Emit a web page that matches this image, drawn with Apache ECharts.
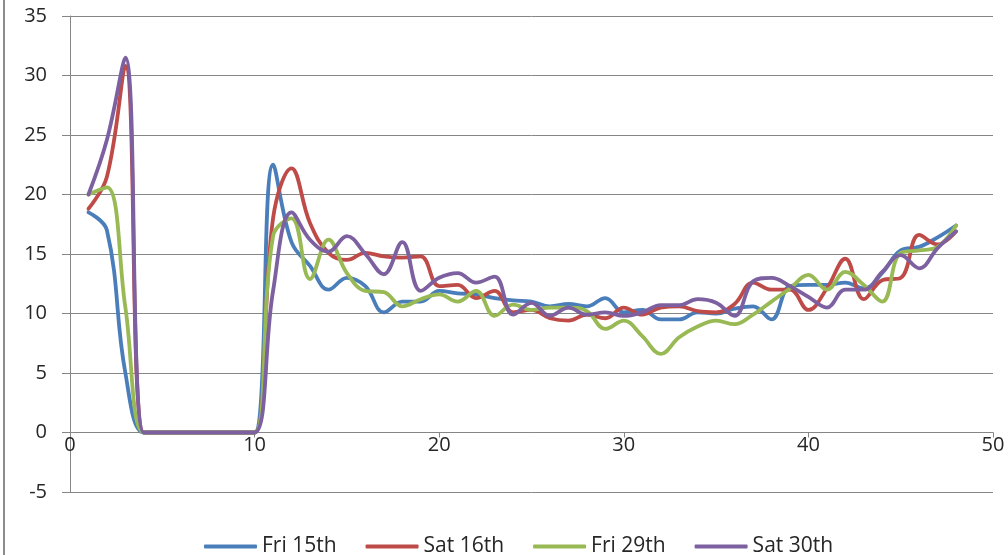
<!DOCTYPE html>
<html>
<head>
<meta charset="utf-8">
<script src="https://cdn.jsdelivr.net/npm/echarts@6/dist/echarts.min.js"></script>
<style>
html,body{margin:0;padding:0;background:#fff;}
#chart{width:1008px;height:555px;}
</style>
</head>
<body>
<div id="chart"></div>
<script>
const xValues = [1,2,3,4,5,6,7,8,9,10,11,12,13,14,15,16,17,18,19,20,21,22,23,24,25,26,27,28,29,30,31,32,33,34,35,36,37,38,39,40,41,42,43,44,45,46,47,48];
const seriesNames = ['Fri 15th','Sat 16th','Fri 29th','Sat 30th'];
const fri15 = [18.5,17,5,0,0,0,0,0,0,0,22.5,16,14,12,13,12.3,10.1,11,11,11.9,11.7,11.6,11.3,11.1,11,10.6,10.8,10.6,11.3,10.1,10.3,9.5,9.5,10.1,10,10.4,10.6,9.5,12.3,12.4,12.4,12.6,12.1,13.4,15.3,15.6,16.4,17.4];
const sat16 = [18.8,21.5,30.8,0,0,0,0,0,0,0,18,22.2,17.6,15.1,14.5,15.1,14.8,14.7,14.8,12.3,12.4,11.3,11.9,10.1,10.3,9.6,9.4,9.9,9.6,10.5,9.9,10.5,10.6,10.2,10.1,10.8,12.6,12,12,10.3,12.1,14.6,11.2,12.8,13,16.6,15.8,16.9];
const fri29 = [20,20.6,10.5,0,0,0,0,0,0,0,16.5,18,12.9,16.2,13.4,11.9,11.8,10.6,11.2,11.6,11,11.9,9.8,10.75,10.3,10.5,10.5,10.2,8.7,9.4,8.1,6.6,8,8.9,9.4,9.1,9.9,11,12.1,13.25,12,13.5,12.4,11,15.1,15.3,15.6,17.4];
const sat30 = [20,24.6,31.5,0,0,0,0,0,0,0,11.9,18.5,16.2,15.2,16.5,15,13.3,16,11.9,13,13.4,12.6,13.1,9.9,10.9,9.8,10.5,9.9,10.1,9.8,10.1,10.7,10.7,11.2,10.9,9.8,12.7,13,12.3,11.4,10.5,12,12,13.5,14.9,13.8,15.5,16.9];
const xTicks = [0,10,20,30,40,50];
const yTicks = [-5,0,5,10,15,20,25,30,35];
const colors = ['#4A7EBB','#BE4B48','#98B954','#7D60A0'];

const allSeries = [fri15, sat16, fri29, sat30];
const chart = echarts.init(document.getElementById('chart'), null, {renderer:'canvas'});
const font = "'Open Sans', sans-serif";
const gridTop = 16, gridBottom = 63;
const plotH = 555 - gridTop - gridBottom;
const zeroOffset = -plotH * (0 - yTicks[0]) / (yTicks[yTicks.length-1] - yTicks[0]);
chart.setOption({
  animation:false,
  backgroundColor:'#ffffff',
  color:colors,
  graphic:[{type:'line',shape:{x1:4,y1:0,x2:4,y2:555},style:{stroke:'#8c8c8c',lineWidth:2}}],
  grid:{left:70,right:15,top:gridTop,bottom:gridBottom,containLabel:false},
  legend:{
    data:seriesNames,
    left:199, top:531,
    icon:'roundRect',
    itemWidth:53, itemHeight:4, itemGap:29,
    textStyle:{fontFamily:font,fontSize:21,color:'#262626'}
  },
  xAxis:{
    type:'value', min:xTicks[0], max:xTicks[xTicks.length-1], interval:10,
    offset: zeroOffset,
    axisLine:{show:true,onZero:false,lineStyle:{color:'#868686',width:1}},
    axisTick:{show:true,length:5,lineStyle:{color:'#868686'}},
    splitLine:{show:false},
    axisLabel:{margin:3,fontFamily:font,fontSize:20,color:'#262626'}
  },
  yAxis:{
    type:'value', min:yTicks[0], max:yTicks[yTicks.length-1], interval:5,
    axisLine:{show:true,onZero:false,lineStyle:{color:'#868686',width:1}},
    axisTick:{show:true,length:8,lineStyle:{color:'#868686'}},
    splitLine:{show:true,lineStyle:{color:'#868686',width:1}},
    axisLabel:{margin:23,fontFamily:font,fontSize:20,color:'#262626'}
  },
  series: allSeries.map((vals,i)=>({
    name:seriesNames[i],
    type:'line',
    smooth:0.4,
    showSymbol:false,
    symbol:'none',
    lineStyle:{width:3.8,color:colors[i],cap:'round',join:'round'},
    data: xValues.map((x,j)=>[x, vals[j]])
  }))
});
</script>
</body>
</html>
